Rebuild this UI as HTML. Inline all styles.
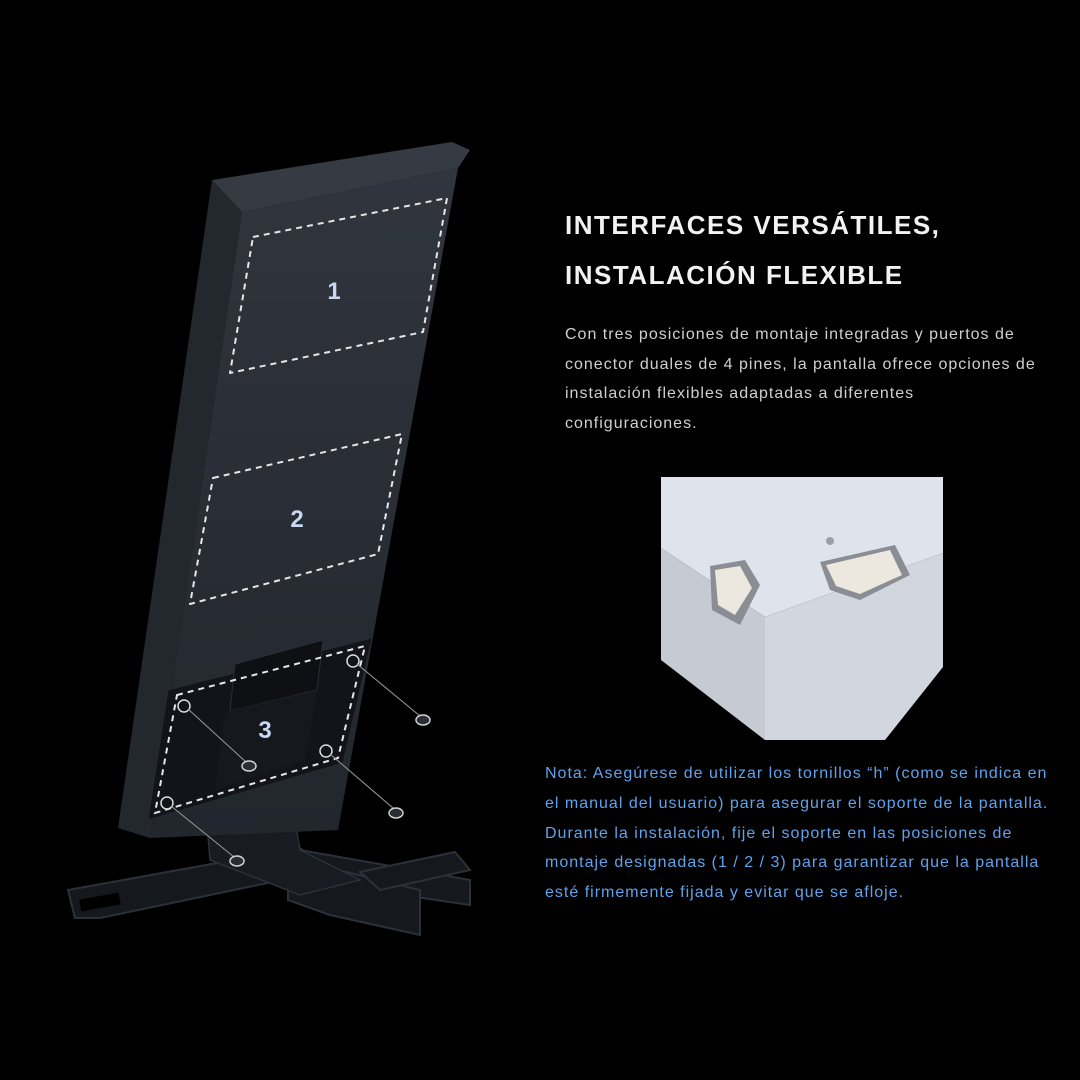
<!DOCTYPE html>
<html><head><meta charset="utf-8"><style>
html,body{margin:0;padding:0;background:#000;}
body{width:1080px;height:1080px;position:relative;overflow:hidden;font-family:"Liberation Sans",sans-serif;}
.t{position:absolute;left:565px;color:#f2f2f2;font-weight:bold;font-size:26px;letter-spacing:1.5px;}
.p{position:absolute;left:565px;top:320px;color:#d0d0d0;font-size:16px;letter-spacing:1px;line-height:29.5px;width:515px;white-space:nowrap;}
.n{position:absolute;left:545px;top:759px;color:#5fa3ec;font-size:16px;letter-spacing:1px;line-height:29.8px;width:535px;white-space:nowrap;}
svg{position:absolute;left:0;top:0;}
</style></head><body>
<svg width="1080" height="1080" viewBox="0 0 1080 1080">
<defs>
<linearGradient id="fg" x1="0" y1="0" x2="0" y2="1"><stop offset="0" stop-color="#30353e"/><stop offset="1" stop-color="#22262d"/></linearGradient>
</defs>
<!-- base -->
<g fill="#15181d" stroke="#2c3038" stroke-width="2">
<polygon points="68,890 300,848 330,870 100,918 75,918"/>
<polygon points="300,850 470,880 470,905 300,880"/>
<polygon points="288,872 330,868 420,890 420,935 330,915 288,900"/>
<polygon points="360,872 455,852 470,870 380,890"/>
</g>
<rect x="80" y="896" width="40" height="12" fill="#000" transform="rotate(-10 100 902)"/>
<!-- hinge plate -->
<polygon points="205,800 290,790 300,850 360,880 300,895 210,860" fill="#181b21" stroke="#2c3038" stroke-width="1.5"/>
<!-- panel -->
<polygon points="212,180 452,142 470,150 458,168 242,212" fill="#363a43"/>
<polygon points="212,180 242,212 150,838 118,828" fill="#23272e"/>
<polygon points="242,212 458,168 338,830 150,838" fill="url(#fg)"/>
<!-- dashed rects -->
<g fill="none" stroke="#e6e6e6" stroke-width="2" stroke-dasharray="6,5" stroke-linejoin="round">
<polygon points="253,237 447,198 423,332 230,373"/>
<polygon points="213,478 402,434 378,554 190,604"/>
</g>
<!-- bracket -->
<polygon points="168,690 372,638 343,763 148,820" fill="#121419" stroke="#262a31" stroke-width="1"/>
<polygon points="235,664 323,640 317,690 230,711" fill="#0e1014" stroke="#2a2e35"/>
<polygon points="225,712 318,690 305,760 215,790" fill="#15181d"/>
<polygon points="177,695 365,646 338,758 155,813" fill="none" stroke="#e6e6e6" stroke-width="2" stroke-dasharray="6,5"/>
<g fill="none" stroke="#dcdcdc" stroke-width="1.5">
<circle cx="353" cy="661" r="6"/><circle cx="184" cy="706" r="6"/><circle cx="326" cy="751" r="6"/><circle cx="167" cy="803" r="6"/>
</g>
<g stroke="#9a9a9a" stroke-width="1">
<line x1="357" y1="664" x2="420" y2="716"/><line x1="188" y1="709" x2="246" y2="762"/>
<line x1="330" y1="754" x2="393" y2="808"/><line x1="171" y1="806" x2="234" y2="857"/>
</g>
<g fill="#2a2d33" stroke="#d0d0d0" stroke-width="1.5">
<ellipse cx="423" cy="720" rx="7" ry="5"/><ellipse cx="249" cy="766" rx="7" ry="5"/><ellipse cx="396" cy="813" rx="7" ry="5"/><ellipse cx="237" cy="861" rx="7" ry="5"/>
</g>
<g fill="#c7d8f0" font-family="Liberation Sans,sans-serif" font-weight="bold" font-size="24" text-anchor="middle">
<text x="334" y="299">1</text><text x="297" y="527">2</text><text x="265" y="738">3</text>
</g>
<!-- photo -->
<rect x="661" y="477" width="282" height="263" fill="#000"/>
<polygon points="661,477 943,477 943,553 765,617 661,548" fill="#dfe4ec"/>
<polygon points="661,548 765,617 765,740 661,660" fill="#c6cbd3"/>
<polygon points="765,617 943,553 943,667 885,740 765,740" fill="#d2d7df"/>
<polygon points="710,566 745,560 760,585 740,625 712,610" fill="#8a8e94"/>
<polygon points="715,570 740,566 752,588 735,615 718,605" fill="#ece7df"/>
<polygon points="820,562 895,545 910,575 860,600 830,590" fill="#8a8e94"/>
<polygon points="826,565 890,550 902,575 860,594 836,586" fill="#ece7df"/>
<circle cx="830" cy="541" r="4" fill="#9aa0a8"/>
</svg>
<div class="t" style="top:210px">INTERFACES VERSÁTILES,</div>
<div class="t" style="top:260px">INSTALACIÓN FLEXIBLE</div>
<div class="p">Con tres posiciones de montaje integradas y puertos de<br>conector duales de 4 pines, la pantalla ofrece opciones de<br>instalación flexibles adaptadas a diferentes<br>configuraciones.</div>
<div class="n">Nota: Asegúrese de utilizar los tornillos “h” (como se indica en<br>el manual del usuario) para asegurar el soporte de la pantalla.<br>Durante la instalación, fije el soporte en las posiciones de<br>montaje designadas (1 / 2 / 3) para garantizar que la pantalla<br>esté firmemente fijada y evitar que se afloje.</div>
</body></html>
